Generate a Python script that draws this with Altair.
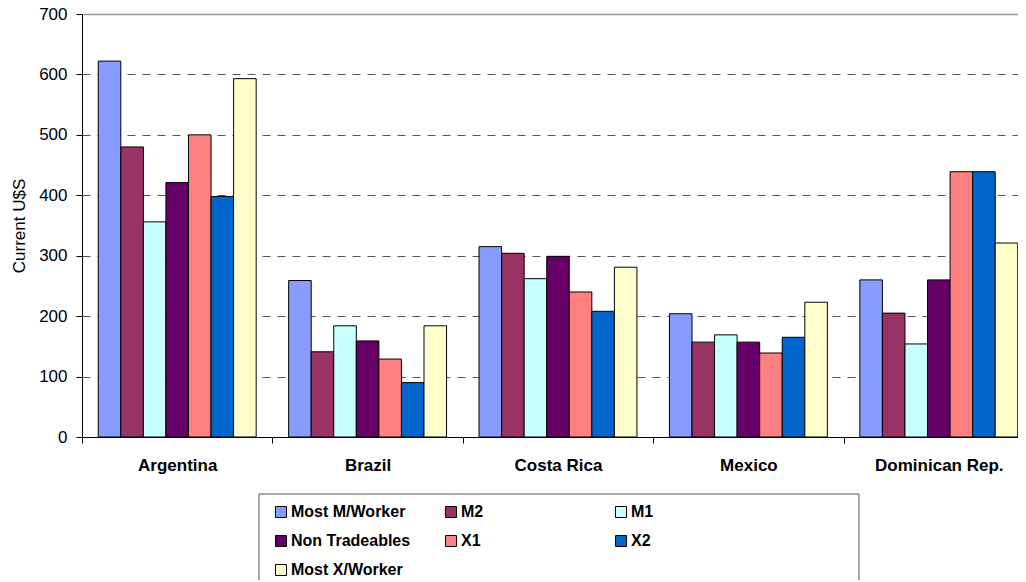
import altair as alt
import pandas as pd

countries = ["Argentina", "Brazil", "Costa Rica", "Mexico", "Dominican Rep."]
series = ["Most M/Worker", "M2", "M1", "Non Tradeables", "X1", "X2", "Most X/Worker"]
colors = ["#889CFF", "#993366", "#C8FFFF", "#660066", "#FF8080", "#0066CC", "#FFFFCC"]

most_m_worker = [622, 259, 315, 204, 260]
m2 = [480, 141, 304, 157, 205]
m1 = [356, 184, 262, 169, 154]
non_tradeables = [421, 159, 299, 157, 260]
x1 = [500, 129, 240, 139, 439]
x2 = [398, 90, 208, 165, 439]
most_x_worker = [593, 184, 281, 223, 321]

values = [most_m_worker, m2, m1, non_tradeables, x1, x2, most_x_worker]
rows = []
for s, vals in zip(series, values):
    for c, v in zip(countries, vals):
        rows.append({"Country": c, "Series": s, "Value": v})
df = pd.DataFrame(rows)

FONT = "Liberation Sans"

bars = alt.Chart(df).mark_bar(stroke="black", strokeWidth=1).encode(
    x=alt.X(
        "Country:N",
        sort=countries,
        scale=alt.Scale(range=[0, 952], paddingInner=0, paddingOuter=0),
        axis=alt.Axis(
            title=None, labelAngle=0, labelFont=FONT, labelFontSize=17,
            labelFontWeight="bold", labelColor="black", labelPadding=14,
            tickBand="extent", tickColor="black", tickSize=6,
            domainColor="black", grid=False,
        ),
    ),
    xOffset=alt.XOffset(
        "Series:N", sort=series,
        scale=alt.Scale(paddingInner=0, paddingOuter=0.72),
    ),
    y=alt.Y(
        "Value:Q",
        scale=alt.Scale(domain=[0, 700], nice=False),
        axis=alt.Axis(
            title="Current U$S", titleFont=FONT, titleFontSize=17,
            titleFontWeight="normal", titleColor="black", titlePadding=10,
            values=[0, 100, 200, 300, 400, 500, 600, 700],
            labelFont=FONT, labelFontSize=17, labelColor="black", labelPadding=9,
            tickColor="black", tickSize=6, domainColor="black",
            grid=True,
            gridDash=alt.condition("datum.value == 700", alt.value([]), alt.value([8, 7])),
            gridColor=alt.condition("datum.value == 700", alt.value("#999999"), alt.value("#555555")),
            gridWidth=alt.condition("datum.value == 700", alt.value(1.6), alt.value(1)),
        ),
    ),
    color=alt.Color(
        "Series:N", sort=series,
        scale=alt.Scale(domain=series, range=colors),
        legend=alt.Legend(
            title=None, orient="none", legendX=191, legendY=490,
            direction="horizontal",
            columns=3, gridAlign="all", columnPadding=32, rowPadding=13,
            symbolType="square", symbolSize=121, symbolStrokeColor="black",
            symbolStrokeWidth=1, symbolOpacity=1,
            labelFont=FONT, labelFontSize=16, labelFontWeight="bold",
            labelColor="black", labelOffset=2, padding=0,
        ),
    ),
)

frame = alt.Chart(pd.DataFrame({"k": [0]})).mark_rect(
    filled=False, stroke="#555555", strokeWidth=1
).encode(
    x=alt.value(177), x2=alt.value(777), y=alt.value(480), y2=alt.value(600)
)

chart = alt.layer(bars, frame).properties(
    width=936, height=423,
    autosize=alt.AutoSizeParams(type="none"),
    padding={"left": 74, "top": 6, "right": 0, "bottom": 143},
).configure_view(stroke=None)

chart.save("out.html", embed_options={"renderer": "svg", "actions": False})
